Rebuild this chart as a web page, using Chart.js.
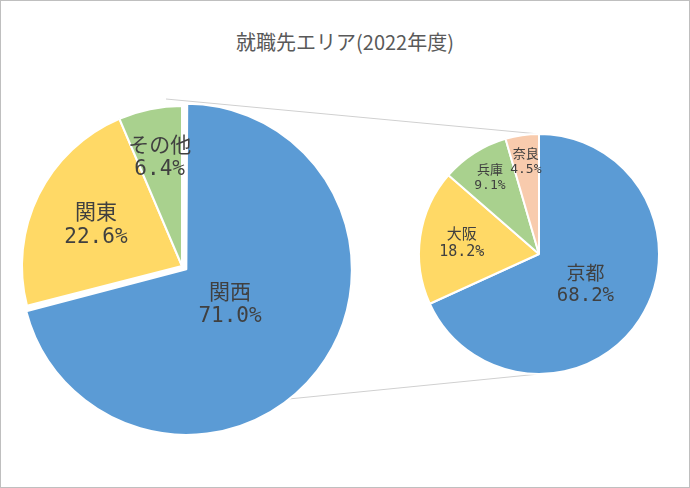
<!DOCTYPE html>
<html><head><meta charset="utf-8">
<script src="https://cdn.jsdelivr.net/npm/chart.js@4/dist/chart.umd.min.js"></script>
<style>
body{margin:0;background:#fff;}
#wrap{position:relative;width:688px;height:486px;border:1px solid #bfbfbf;overflow:hidden;font-family:"Noto Sans CJK JP",sans-serif;}
#title{position:absolute;top:26px;left:0;width:688px;text-align:center;font-size:20px;color:#595959;}
canvas{position:absolute;}
</style></head><body>
<div id="wrap">
<div id="title">就職先エリア(2022年度)</div>
<canvas id="lines" width="688" height="486" style="left:0;top:0"></canvas>
<canvas id="left" style="left:-1px;top:83px;width:364px;height:364px"></canvas>
<canvas id="right" style="left:413px;top:128px;width:250px;height:250px"></canvas>
</div>
<script>
const mainLabels = ['関西', '関東', 'その他'];
const mainValues = [71.0, 22.6, 6.4];
const subLabels = ['京都', '大阪', '兵庫', '奈良'];
const subValues = [68.2, 18.2, 9.1, 4.5];

const mainColors = ['#5B9BD5', '#FFD966', '#A9D18E'];
const subColors = ['#5B9BD5', '#FFD966', '#A9D18E', '#F8CBAD'];

function labelPlugin(fracs, sizes) {
  return {
    id: 'lbl',
    afterDatasetsDraw(chart) {
      const ctx = chart.ctx;
      const meta = chart.getDatasetMeta(0);
      const ds = chart.data.datasets[0];
      meta.data.forEach((arc, i) => {
        const p = arc.getProps(['x', 'y', 'startAngle', 'endAngle', 'outerRadius']);
        const mid = (p.startAngle + p.endAngle) / 2;
        const r = p.outerRadius * fracs[i];
        const x = p.x + Math.cos(mid) * r, y = p.y + Math.sin(mid) * r;
        ctx.save();
        ctx.fillStyle = '#404040';
        ctx.textAlign = 'center';
        ctx.textBaseline = 'middle';
        ctx.font = sizes[i] + 'px "Noto Sans CJK JP"';
        ctx.fillText(chart.data.labels[i], x, y - sizes[i] * 0.6);
        ctx.font = sizes[i] + 'px "DejaVu Sans Mono"';
        ctx.fillText(ds.data[i].toFixed(1) + '%', x, y + sizes[i] * 0.65);
        ctx.restore();
      });
    }
  };
}

function pie(id, labels, values, colors, radius, offsets, fracs, sizes) {
  return new Chart(document.getElementById(id), {
    type: 'pie',
    data: { labels: labels, datasets: [{ data: values, backgroundColor: colors, borderColor: '#fff', borderWidth: 2, offset: offsets }] },
    options: {
      responsive: false, animation: false, radius: radius,
      layout: { padding: 0 },
      plugins: { legend: { display: false }, tooltip: { enabled: false } }
    },
    plugins: [labelPlugin(fracs, sizes)]
  });
}

const left = pie('left', mainLabels, mainValues, mainColors, 160, [22, 0, 0], [0.38, 0.6, 0.7], [21, 21, 21]);
const right = pie('right', subLabels, subValues, subColors, 120, [0, 0, 0, 0], [0.46, 0.65, 0.76, 0.78], [19, 15, 13, 13]);

// connector lines
const lc = document.getElementById('lines').getContext('2d');
const la = left.getDatasetMeta(0).data[0].getProps(['x', 'y', 'outerRadius']);
const ra = right.getDatasetMeta(0).data[0].getProps(['x', 'y', 'outerRadius']);
const lx = -1 + la.x, ly = 83 + la.y, rx = 413 + ra.x, ry = 128 + ra.y;
const a = Math.PI * 0.18;
lc.strokeStyle = '#d0d0d0';
lc.lineWidth = 1;
lc.beginPath();
lc.moveTo(lx - 16, ly - 13 - la.outerRadius + 6);
lc.lineTo(rx, ry - ra.outerRadius);
lc.moveTo(lx + la.outerRadius * Math.sin(a), ly + la.outerRadius * Math.cos(a));
lc.lineTo(rx, ry + ra.outerRadius);
lc.stroke();
</script>
</body></html>
